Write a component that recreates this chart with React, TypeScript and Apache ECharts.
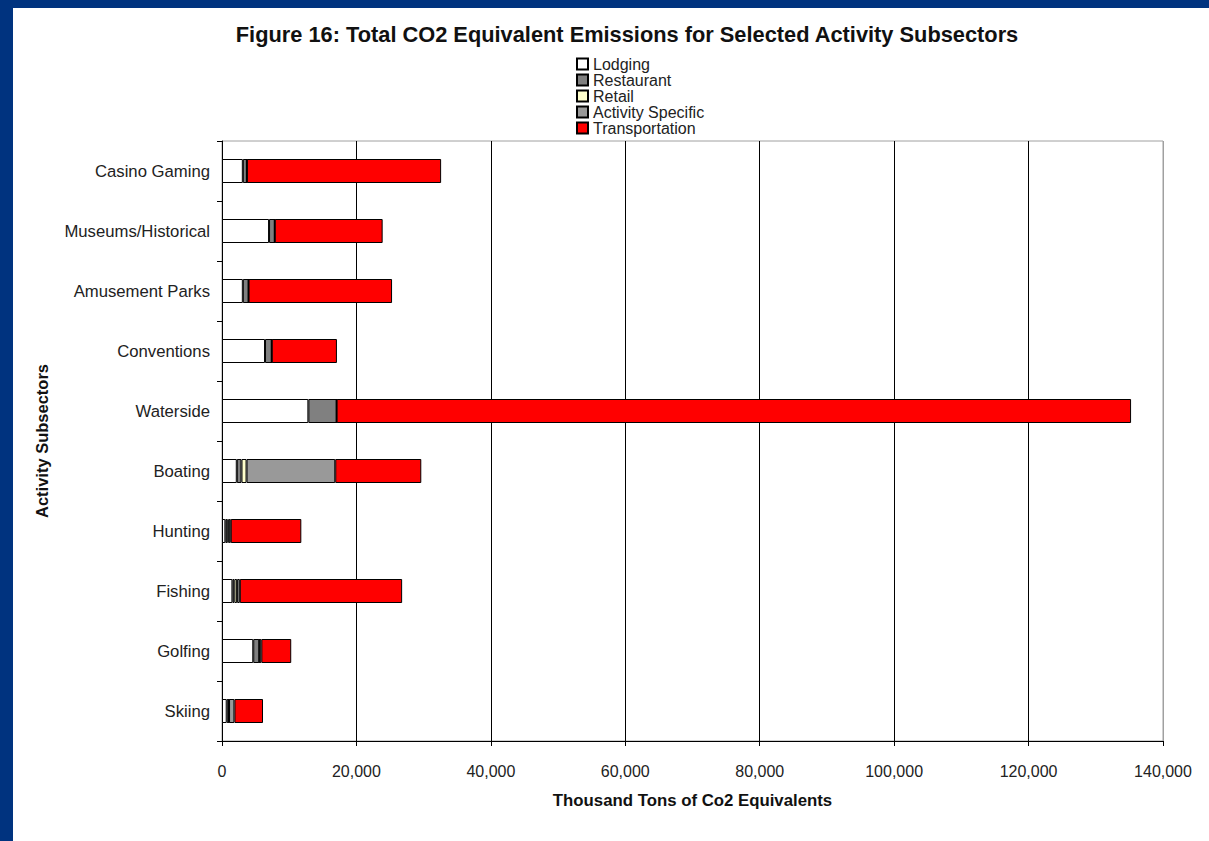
import React, { useEffect, useRef } from "react";
import * as echarts from "echarts";

const categories = [
  "Casino Gaming",
  "Museums/Historical",
  "Amusement Parks",
  "Conventions",
  "Waterside",
  "Boating",
  "Hunting",
  "Fishing",
  "Golfing",
  "Skiing",
];
const lodging = [3100, 7000, 3100, 6400, 12850, 2200, 500, 1550, 4650, 700];
const restaurant = [600, 850, 850, 1000, 4200, 700, 300, 300, 900, 350];
const retail = [0, 0, 0, 0, 0, 750, 200, 400, 0, 0];
const activitySpecific = [0, 0, 0, 0, 0, 13200, 300, 400, 300, 800];
const transportation = [28900, 16050, 21350, 9700, 118200, 12800, 10500, 24150, 4450, 4250];

const seriesNames = ["Lodging", "Restaurant", "Retail", "Activity Specific", "Transportation"];
const seriesData = [lodging, restaurant, retail, activitySpecific, transportation];
const seriesColors = ["#ffffff", "#808080", "#ffffcc", "#999999", "#ff0000"];

const titleText = "Figure 16: Total CO2 Equivalent Emissions for Selected Activity Subsectors";
const xAxisTitle = "Thousand Tons of Co2 Equivalents";
const yAxisTitle = "Activity Subsectors";

const FONT = "'Liberation Sans', Arial, sans-serif";

export default function App() {
  const ref = useRef<HTMLDivElement>(null);
  useEffect(() => {
    if (!ref.current) return;
    const chart = echarts.init(ref.current, null, { renderer: "svg" });
    chart.setOption({
      animation: false,
      backgroundColor: "#ffffff",
      textStyle: { fontFamily: FONT },
      graphic: [
        {
          type: "text",
          x: 614,
          y: 26,
          style: {
            text: titleText,
            textAlign: "center",
            textVerticalAlign: "middle",
            font: `bold 21.8px ${FONT}`,
            fill: "#111",
          },
        },
      ],
      legend: {
        orient: "vertical",
        left: 563,
        top: 48,
        itemWidth: 11,
        itemHeight: 11,
        itemGap: 0,
        padding: 0,
        selectedMode: false,
        textStyle: { fontSize: 16, lineHeight: 15, color: "#222", fontFamily: FONT },
        data: seriesNames.map((n) => ({ name: n, icon: "rect" })),
      },
      grid: {
        left: 209,
        right: 46,
        top: 133,
        bottom: 100,
        show: true,
        borderColor: "#a0a0a0",
        borderWidth: 1,
        backgroundColor: "transparent",
      },
      xAxis: {
        type: "value",
        min: 0,
        max: 140000,
        interval: 20000,
        name: xAxisTitle,
        nameLocation: "middle",
        nameGap: 51,
        nameTextStyle: { fontWeight: "bold", fontSize: 16.8, color: "#111", fontFamily: FONT },
        axisLine: { show: true, lineStyle: { color: "#000", width: 1 } },
        axisTick: { show: true, length: 5, lineStyle: { color: "#000" } },
        axisLabel: {
          margin: 22,
          fontSize: 16,
          color: "#222",
          fontFamily: FONT,
          formatter: (v: number) => v.toLocaleString("en-US"),
        },
        splitLine: {
          show: true,
          lineStyle: {
            color: ["#000", "#000", "#000", "#000", "#000", "#000", "#000", "#a0a0a0"],
            width: 1,
          },
        },
      },
      yAxis: {
        type: "category",
        inverse: true,
        data: categories,
        name: yAxisTitle,
        nameLocation: "middle",
        nameGap: 172,
        nameTextStyle: { fontWeight: "bold", fontSize: 16.5, color: "#111", fontFamily: FONT },
        axisLine: { show: true, lineStyle: { color: "#000", width: 1 } },
        axisTick: { show: true, length: 5, lineStyle: { color: "#000" } },
        axisLabel: { margin: 12, fontSize: 16.7, color: "#222", fontFamily: FONT },
        splitLine: { show: false },
      },
      series: seriesNames.map((name, i) => ({
        name,
        type: "bar",
        stack: "total",
        barWidth: 24,
        data: seriesData[i],
        itemStyle: { color: seriesColors[i], borderColor: "#000", borderWidth: 1 },
        emphasis: { disabled: true },
      })),
    });
    return () => chart.dispose();
  }, []);

  return (
    <div
      style={{
        position: "fixed",
        left: 0,
        top: 0,
        width: 1209,
        height: 841,
        background: "#00337f",
      }}
    >
      <div
        ref={ref}
        style={{ position: "absolute", left: 13, top: 8, width: 1196, height: 833 }}
      />
    </div>
  );
}
